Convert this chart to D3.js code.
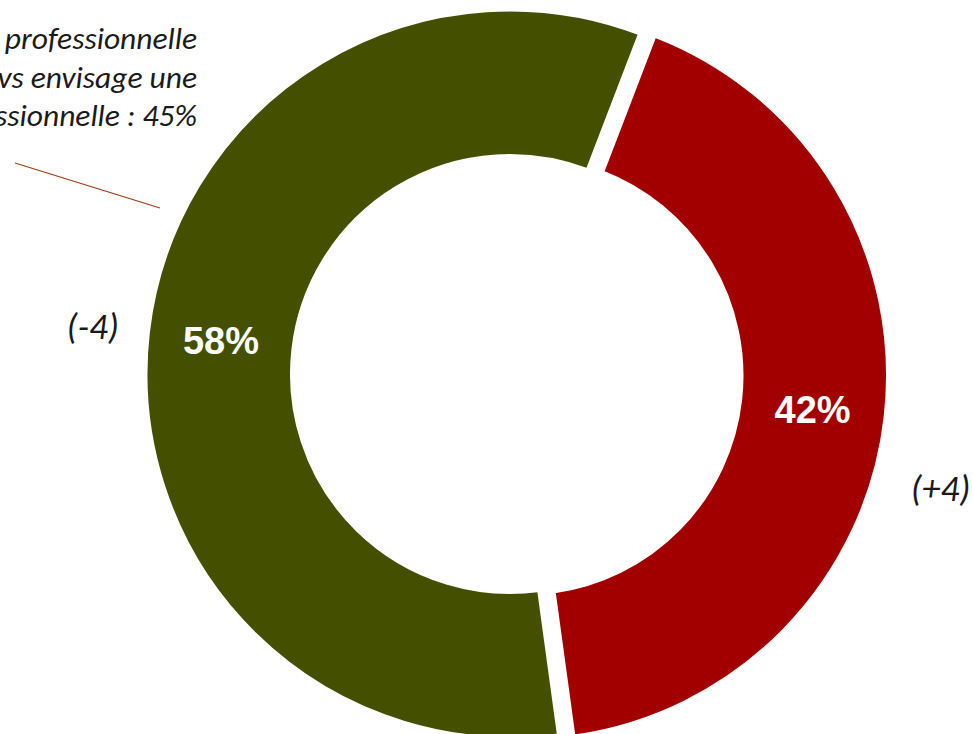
<!DOCTYPE html>
<html>
<head>
<meta charset="utf-8">
<script src="https://cdn.jsdelivr.net/npm/d3@7"></script>
<style>
  html, body { margin: 0; padding: 0; background: #ffffff; overflow: hidden; }
  svg { display: block; }
</style>
</head>
<body>
<svg id="chart" width="973" height="734"></svg>
<script>
// ---- data ----
const categories = ["Segment A", "Segment B"];
const values = [42, 58];
const valueLabels = ["42%", "58%"];
const changeLabels = ["(+4)", "(-4)"];
const colors = ["#A20000", "#445000"];
const noteLines = ["professionnelle", "vs envisage une", "ssionnelle : 45%"];

// ---- layout ----
const W = 973, H = 734;
const cx = 510, cy = 374;
const outerR = 365, innerR = 217.5;
const explode = [13.6, 0];       // explosion distance per slice
const startDeg = 21;
const svg = d3.select("#chart");

const pie = d3.pie().sort(null).value(d => d)
  .startAngle(startDeg * Math.PI / 180)
  .endAngle(startDeg * Math.PI / 180 + 2 * Math.PI);
const arcs = pie(values);
const arc = d3.arc().innerRadius(innerR).outerRadius(outerR);
const labelArc = d3.arc().innerRadius(216).outerRadius(366);

const g = svg.append("g").attr("transform", `translate(${cx},${cy})`);

function offsetOf(d, i) {
  const mid = (d.startAngle + d.endAngle) / 2;
  return [Math.sin(mid) * explode[i], -Math.cos(mid) * explode[i]];
}

const slices = g.selectAll("g.slice").data(arcs).join("g")
  .attr("class", "slice")
  .attr("transform", (d, i) => { const o = offsetOf(d, i); return `translate(${o[0]},${o[1]})`; });

slices.append("path")
  .attr("d", arc)
  .attr("fill", (d, i) => colors[i])
  .attr("stroke", "#ffffff")
  .attr("stroke-width", 5)
  .attr("stroke-linejoin", "miter");

slices.append("text")
  .attr("x", d => labelArc.centroid(d)[0])
  .attr("y", d => labelArc.centroid(d)[1])
  .attr("dy", "0.36em")
  .attr("text-anchor", "middle")
  .attr("font-family", "'Liberation Sans', Arial, sans-serif")
  .attr("font-weight", "bold")
  .attr("font-size", 38)
  .attr("fill", "#ffffff")
  .text((d, i) => valueLabels[i]);

// change labels (outside the ring)
const changeRadius = [432, 420];
const changeAngleShift = [8.5, 0]; // degrees
g.selectAll("text.change").data(arcs).join("text")
  .attr("class", "change")
  .attr("x", (d, i) => {
    const a = (d.startAngle + d.endAngle) / 2 + changeAngleShift[i] * Math.PI / 180;
    return Math.sin(a) * changeRadius[i] + offsetOf(d, i)[0];
  })
  .attr("y", (d, i) => {
    const a = (d.startAngle + d.endAngle) / 2 + changeAngleShift[i] * Math.PI / 180;
    return -Math.cos(a) * changeRadius[i] + offsetOf(d, i)[1];
  })
  .attr("dy", "0.35em")
  .attr("text-anchor", "middle")
  .attr("font-family", "Carlito, Lato, 'Open Sans', sans-serif")
  .attr("font-style", "italic")
  .attr("font-weight", 300)
  .attr("font-size", 37)
  .attr("fill", "#1a1a1a")
  .text((d, i) => changeLabels[i]);

// annotation text (top-left, partially cut by the frame)
svg.append("g").selectAll("text").data(noteLines).join("text")
  .attr("x", 197)
  .attr("y", (d, i) => 49 + i * 38.5)
  .attr("text-anchor", "end")
  .attr("font-family", "Carlito, Lato, 'Open Sans', sans-serif")
  .attr("font-style", "italic")
  .attr("font-weight", 300)
  .attr("font-size", 31.5)
  .attr("fill", "#1a1a1a")
  .text(d => d);

// leader line
svg.append("line")
  .attr("x1", 15).attr("y1", 163)
  .attr("x2", 160).attr("y2", 208)
  .attr("stroke", "#A33A10")
  .attr("stroke-width", 1.2);
</script>
</body>
</html>
